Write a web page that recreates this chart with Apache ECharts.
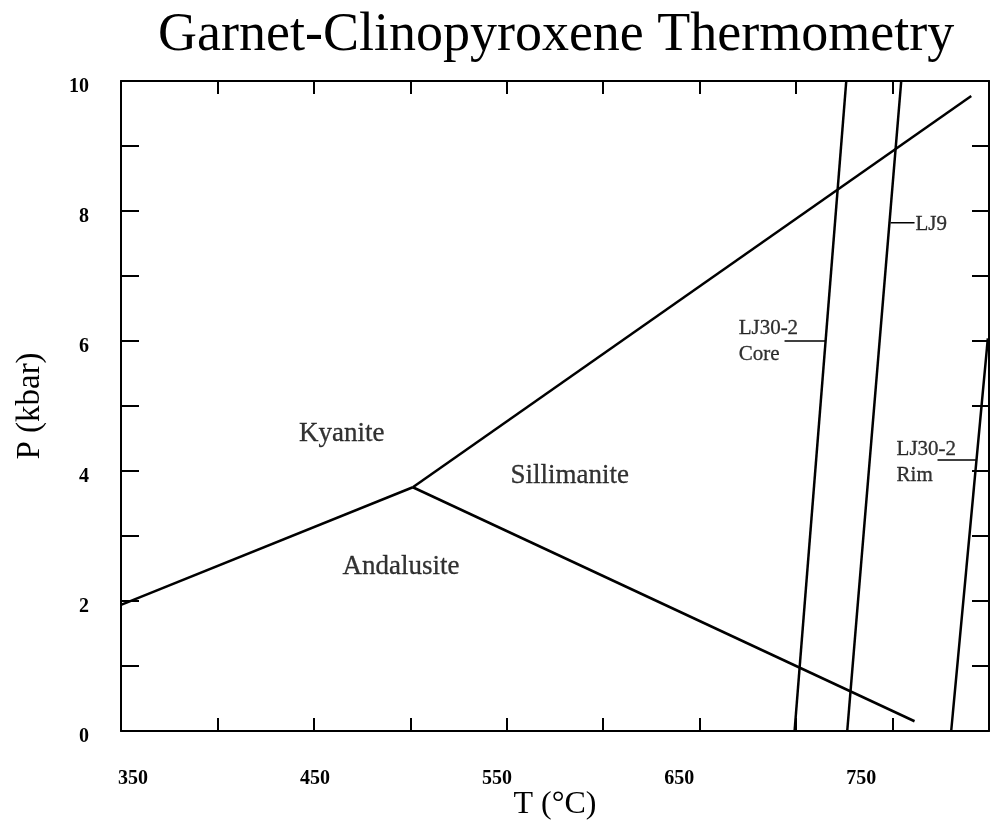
<!DOCTYPE html>
<html>
<head>
<meta charset="utf-8">
<script src="https://cdn.jsdelivr.net/npm/echarts@6/dist/echarts.min.js"></script>
<style>
html,body{margin:0;padding:0;background:#fff;}
#chart{width:992px;height:835px;}
</style>
</head>
<body>
<div id="chart"></div>
<script>
// ---- data (T in °C, P in kbar) ----
const kyaniteAndalusite = [[350, 1.94], [501.3, 3.75]];
const kyaniteSillimanite = [[501.3, 3.75], [790.8, 9.77]];
const andalusiteSillimanite = [[501.3, 3.75], [761.4, 0.15]];
const lj30Core = [[699.2, 0], [726.0, 10]];
const lj9 = [[726.5, 0], [754.5, 10]];
const lj30Rim = [[780.4, 0], [799.4, 6.04]];
const leaderLJ9 = [[749.0, 7.82], [761.4, 7.82]];
const leaderCore = [[694.0, 6.0], [715.3, 6.0]];
const leaderRim = [[773.3, 4.17], [793.2, 4.17]];
const regionLabels = [['Kyanite', 464.5, 4.57], ['Sillimanite', 582.6, 3.92], ['Andalusite', 495.1, 2.52]];
const sampleLabels = [['LJ9', 761.9, 7.8], ['LJ30-2\nCore', 670.2, 6.0], ['LJ30-2\nRim', 752.1, 4.13]];
const xRange = [350, 800];
const yRange = [0, 10];
const tempTickLabels = [350, 450, 550, 650, 750];
const pressureTickLabels = [0, 2, 4, 6, 8, 10];
// the printed temperature labels sit on a slightly compressed scale in the source figure
const tempLabelScale = [343.4, 820.2];

const FONT = '"Liberation Serif", "Times New Roman", serif';
const chart = echarts.init(document.getElementById('chart'), null, {renderer: 'canvas'});

function lineSeries(data) {
  return {
    type: 'line', data: data, xAxisIndex: 0, yAxisIndex: 0,
    symbol: 'none', silent: true, animation: false,
    lineStyle: {color: '#000', width: 2.5}
  };
}
function leaderSeries(data) {
  return {
    type: 'line', data: data, xAxisIndex: 0, yAxisIndex: 0,
    symbol: 'none', silent: true, animation: false,
    lineStyle: {color: '#000', width: 1.6}
  };
}

const xCommon = {
  type: 'value', min: xRange[0], max: xRange[1], interval: 50,
  axisLine: {show: true, onZero: false, lineStyle: {color: '#000', width: 2}},
  axisTick: {show: true, inside: true, length: 13, lineStyle: {color: '#000', width: 2}},
  axisLabel: {show: false},
  splitLine: {show: false}
};
const yCommon = {
  type: 'value', min: yRange[0], max: yRange[1], interval: 1,
  axisLine: {show: true, onZero: false, lineStyle: {color: '#000', width: 2}},
  axisTick: {show: true, inside: true, length: 18, lineStyle: {color: '#000', width: 2}},
  splitLine: {show: false}
};

chart.setOption({
  backgroundColor: '#fff',
  animation: false,
  title: {
    text: 'Garnet-Clinopyroxene Thermometry',
    left: 158, top: 9, padding: 0,
    textStyle: {fontFamily: FONT, fontSize: 54, fontWeight: 'normal', color: '#000'}
  },
  grid: {left: 121, right: 3, top: 81, bottom: 104, containLabel: false},
  xAxis: [
    Object.assign({}, xCommon, {
      position: 'bottom',
      name: 'T (°C)', nameLocation: 'middle', nameGap: 58,
      nameTextStyle: {fontFamily: FONT, fontSize: 32, color: '#000'}
    }),
    Object.assign({}, xCommon, {position: 'top'}),
    {
      type: 'value', position: 'bottom',
      min: tempLabelScale[0], max: tempLabelScale[1],
      axisLine: {show: false}, axisTick: {show: false}, splitLine: {show: false},
      axisLabel: {
        show: true, margin: 38, color: '#000', customValues: tempTickLabels,
        fontFamily: FONT, fontSize: 20, fontWeight: 'bold'
      }
    }
  ],
  yAxis: [
    Object.assign({}, yCommon, {
      position: 'left',
      name: 'P (kbar)', nameLocation: 'middle', nameGap: 74, nameRotate: 90,
      nameTextStyle: {fontFamily: FONT, fontSize: 33, color: '#000'},
      axisLabel: {
        show: true, margin: 32, color: '#000', customValues: pressureTickLabels,
        fontFamily: FONT, fontSize: 20, fontWeight: 'bold',
        verticalAlign: 'top', lineHeight: 12
      }
    }),
    Object.assign({}, yCommon, {
      position: 'right',
      axisTick: {show: true, inside: true, length: 17, lineStyle: {color: '#000', width: 2}},
      axisLabel: {show: false}
    })
  ],
  series: [
    lineSeries(kyaniteAndalusite),
    lineSeries(kyaniteSillimanite),
    lineSeries(andalusiteSillimanite),
    lineSeries(lj30Core),
    lineSeries(lj9),
    lineSeries(lj30Rim),
    leaderSeries(leaderLJ9),
    leaderSeries(leaderCore),
    leaderSeries(leaderRim),
    {
      type: 'scatter', symbolSize: 0, silent: true, xAxisIndex: 0, yAxisIndex: 0,
      data: regionLabels.map(d => ({value: [d[1], d[2]], name: d[0]})),
      label: {
        show: true, position: 'inside', formatter: p => p.name,
        fontFamily: FONT, fontSize: 27, color: '#000',
        textBorderColor: '#000', textBorderWidth: 0.3
      }
    },
    {
      type: 'scatter', symbolSize: 0, silent: true, xAxisIndex: 0, yAxisIndex: 0,
      data: sampleLabels.map(d => ({value: [d[1], d[2]], name: d[0]})),
      label: {
        show: true, position: 'right', distance: 0, align: 'left',
        formatter: p => p.name, lineHeight: 26,
        fontFamily: FONT, fontSize: 21, color: '#000',
        textBorderColor: '#000', textBorderWidth: 0.3
      }
    }
  ]
});
</script>
</body>
</html>
